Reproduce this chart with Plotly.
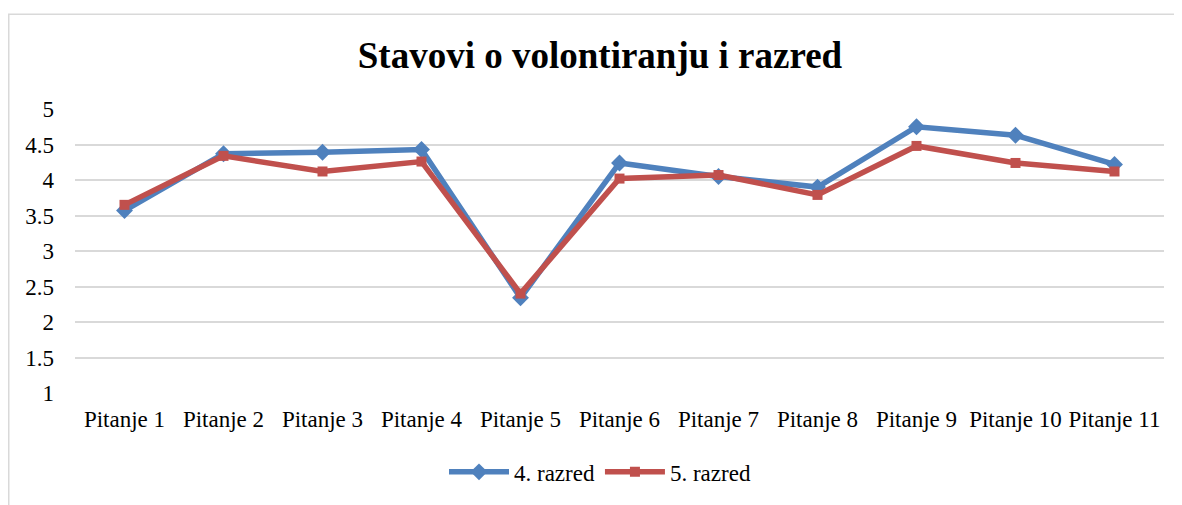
import plotly.graph_objects as go

categories = ["Pitanje 1", "Pitanje 2", "Pitanje 3", "Pitanje 4", "Pitanje 5", "Pitanje 6",
              "Pitanje 7", "Pitanje 8", "Pitanje 9", "Pitanje 10", "Pitanje 11"]
razred4 = [3.57, 4.37, 4.39, 4.43, 2.34, 4.24, 4.05, 3.90, 4.75, 4.63, 4.22]
razred5 = [3.65, 4.34, 4.12, 4.26, 2.40, 4.02, 4.07, 3.79, 4.48, 4.24, 4.12]
series_names = ["4. razred", "5. razred"]
y_ticks = [1, 1.5, 2, 2.5, 3, 3.5, 4, 4.5, 5]

FONT = "Liberation Serif, Times New Roman, serif"
W, H = 1174, 497  # page body has an 8px default margin
L, T = 67, 101
PW, PH = 1089, 288

fig = go.Figure()
fig.add_trace(go.Scatter(x=categories, y=razred4, name=series_names[0], mode="lines+markers",
                         line=dict(color="#4F81BD", width=5.5),
                         marker=dict(symbol="diamond", size=13, color="#4F81BD")))
fig.add_trace(go.Scatter(x=categories, y=razred5, name=series_names[1], mode="lines+markers",
                         line=dict(color="#C0504D", width=5.5),
                         marker=dict(symbol="square", size=10, color="#C0504D")))

fig.update_layout(
    width=W, height=H,
    margin=dict(l=L, r=W - L - PW, t=T, b=H - T - PH, pad=0),
    paper_bgcolor="white", plot_bgcolor="white",
    font=dict(family=FONT, size=23, color="#000000"),
    title=dict(text="<b>Stavovi o volontiranju i razred</b>", x=(600 - 8) / W, xanchor="center",
               y=1 - 47 / H, yanchor="middle", yref="container",
               font=dict(family=FONT, size=37, color="#000000")),
    xaxis=dict(showgrid=False, showline=False, ticks="",
               tickfont=dict(family=FONT, size=23, color="#000000"),
               range=[-0.5, 10.5], ticklabelstandoff=10),
    yaxis=dict(range=[1, 5], tickvals=y_ticks, ticktext=[f"{v:g}" for v in y_ticks],
               showgrid=True, gridcolor="#D9D9D9", gridwidth=1.5, zeroline=False,
               showline=False, ticks="", tickfont=dict(family=FONT, size=23, color="#000000"),
               ticklabelstandoff=20),
    legend=dict(orientation="h", x=(600 - 8 - L) / PW, xanchor="center",
                y=(T + PH - 469) / PH, yanchor="middle",
                font=dict(family=FONT, size=23, color="#000000"), itemwidth=60, tracegroupgap=0),
    showlegend=True,
    shapes=[dict(type="rect", xref="paper", yref="paper",
                 x0=(0.75 - L) / PW, x1=(W + 10 - L) / PW,
                 y0=(T + PH - (H + 10)) / PH, y1=(T + PH - 5) / PH,
                 line=dict(color="#D9D9D9", width=1.5), layer="below")],
)

fig.write_html("out.html")
